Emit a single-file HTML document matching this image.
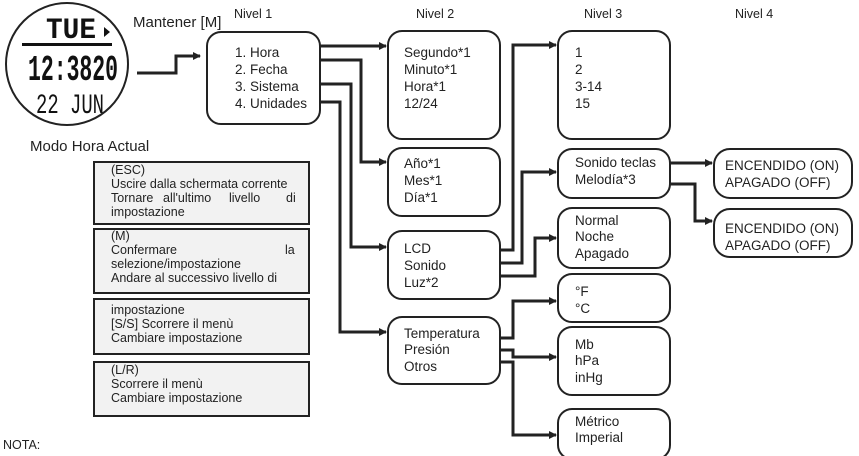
<!DOCTYPE html>
<html><head><meta charset="utf-8"><style>
html,body{margin:0;padding:0;background:#fff;}
svg{display:block;font-family:"Liberation Sans",Arial,sans-serif;}
</style></head><body>
<svg width="859" height="456" viewBox="0 0 859 456" xmlns="http://www.w3.org/2000/svg">
<defs><marker id="a" markerWidth="8" markerHeight="8" refX="7" refY="4" orient="auto" markerUnits="userSpaceOnUse"><path d="M0,0 L8,4 L0,8 z" fill="#222"/></marker></defs>
<circle cx="67" cy="64" r="61" fill="#fff" stroke="#222" stroke-width="2"/>
<text x="46" y="38" font-family="Liberation Mono" font-weight="bold" font-size="30" fill="#111" textLength="50" lengthAdjust="spacingAndGlyphs">TUE</text>
<path d="M104,27 l6,5 l-6,5z" fill="#111"/>
<rect x="22" y="43" width="90" height="3" fill="#111"/>
<text x="28" y="80" font-family="Liberation Mono" font-weight="bold" font-size="36" fill="#111" textLength="90" lengthAdjust="spacingAndGlyphs">12:3820</text>
<text x="36" y="113" font-family="Liberation Mono" font-size="28" fill="#111" textLength="68" lengthAdjust="spacingAndGlyphs">22 JUN</text>
<text x="133" y="27" font-size="15" fill="#222">Mantener [M]</text>
<text x="234" y="18" font-size="12.5" fill="#222">Nivel 1</text>
<text x="416" y="18" font-size="12.5" fill="#222">Nivel 2</text>
<text x="584" y="18" font-size="12.5" fill="#222">Nivel 3</text>
<text x="735" y="18" font-size="12.5" fill="#222">Nivel 4</text>
<text x="30" y="151" font-size="15" fill="#222">Modo Hora Actual</text>
<text x="3" y="449" font-size="12.5" fill="#222">NOTA:</text>
<g fill="none" stroke="#222" stroke-width="3">
<path d="M137,73 H176 V56 H200" marker-end="url(#a)"/>
<path d="M320,46 H386" marker-end="url(#a)"/>
<path d="M320,60 H361 V162 H386" marker-end="url(#a)"/>
<path d="M320,84 H351 V247 H386" marker-end="url(#a)"/>
<path d="M320,102 H340 V332 H386" marker-end="url(#a)"/>
<path d="M500,250 H513 V45 H556" marker-end="url(#a)"/>
<path d="M500,263 H522 V172 H556" marker-end="url(#a)"/>
<path d="M500,276 H535 V238 H556" marker-end="url(#a)"/>
<path d="M500,338 H513 V301 H556" marker-end="url(#a)"/>
<path d="M500,350 H513 V357 H556" marker-end="url(#a)"/>
<path d="M500,362 H513 V435 H556" marker-end="url(#a)"/>
<path d="M670,163 H712" marker-end="url(#a)"/>
<path d="M670,184 H695 V221 H712" marker-end="url(#a)"/>
</g>
<g fill="#fff" stroke="#222" stroke-width="2">
<rect x="207" y="32" width="113" height="92" rx="14"/>
<rect x="388" y="31" width="112" height="108" rx="14"/>
<rect x="388" y="148" width="112" height="68" rx="14"/>
<rect x="388" y="231" width="112" height="68" rx="14"/>
<rect x="388" y="317" width="112" height="67" rx="14"/>
<rect x="558" y="31" width="112" height="108" rx="14"/>
<rect x="558" y="149" width="112" height="49" rx="14"/>
<rect x="558" y="208" width="112" height="60" rx="14"/>
<rect x="558" y="274" width="112" height="48" rx="14"/>
<rect x="558" y="327" width="112" height="68" rx="14"/>
<rect x="558" y="409" width="112" height="50" rx="14"/>
<rect x="714" y="149" width="138" height="49" rx="16"/>
<rect x="714" y="209" width="138" height="48" rx="16"/>
</g>
<g fill="#f2f2f2" stroke="#222" stroke-width="2">
<rect x="94" y="162" width="215" height="62"/>
<rect x="94" y="229" width="215" height="64"/>
<rect x="94" y="299" width="215" height="55"/>
<rect x="94" y="362" width="215" height="54"/>
</g>
<g font-size="13.5" fill="#222">
<text x="235" y="57">1. Hora</text><text x="235" y="74">2. Fecha</text><text x="235" y="91">3. Sistema</text><text x="235" y="108">4. Unidades</text>
<text x="404" y="57">Segundo*1</text><text x="404" y="74">Minuto*1</text><text x="404" y="91">Hora*1</text><text x="404" y="108">12/24</text>
<text x="404" y="168">Año*1</text><text x="404" y="185">Mes*1</text><text x="404" y="202">Día*1</text>
<text x="404" y="253">LCD</text><text x="404" y="270">Sonido</text><text x="404" y="287">Luz*2</text>
<text x="404" y="338">Temperatura</text><text x="404" y="354">Presión</text><text x="404" y="371">Otros</text>
<text x="575" y="57">1</text><text x="575" y="74">2</text><text x="575" y="91">3-14</text><text x="575" y="108">15</text>
<text x="575" y="167">Sonido teclas</text><text x="575" y="184">Melodía*3</text>
<text x="575" y="225">Normal</text><text x="575" y="241">Noche</text><text x="575" y="258">Apagado</text>
<text x="575" y="296">°F</text><text x="575" y="313">°C</text>
<text x="575" y="349">Mb</text><text x="575" y="365">hPa</text><text x="575" y="382">inHg</text>
<text x="575" y="426">Métrico</text><text x="575" y="442">Imperial</text>
<text x="725" y="170">ENCENDIDO (ON)</text><text x="725" y="187">APAGADO (OFF)</text>
<text x="725" y="233">ENCENDIDO (ON)</text><text x="725" y="250">APAGADO (OFF)</text>
</g>
<g font-size="12.5" fill="#222">
<text x="111" y="174">(ESC)</text><text x="111" y="188">Uscire dalla schermata corrente</text>
<text x="111" y="202">Tornare</text><text x="163" y="202">all'ultimo</text><text x="229" y="202">livello</text><text x="286" y="202">di</text>
<text x="111" y="216">impostazione</text>
<text x="111" y="240">(M)</text><text x="111" y="254">Confermare</text><text x="285" y="254">la</text>
<text x="111" y="268">selezione/impostazione</text><text x="111" y="282">Andare al successivo livello di</text>
<text x="111" y="314">impostazione</text><text x="111" y="328">[S/S] Scorrere il menù</text><text x="111" y="342">Cambiare impostazione</text>
<text x="111" y="374">(L/R)</text><text x="111" y="388">Scorrere il menù</text><text x="111" y="402">Cambiare impostazione</text>
</g>
</svg>
</body></html>
